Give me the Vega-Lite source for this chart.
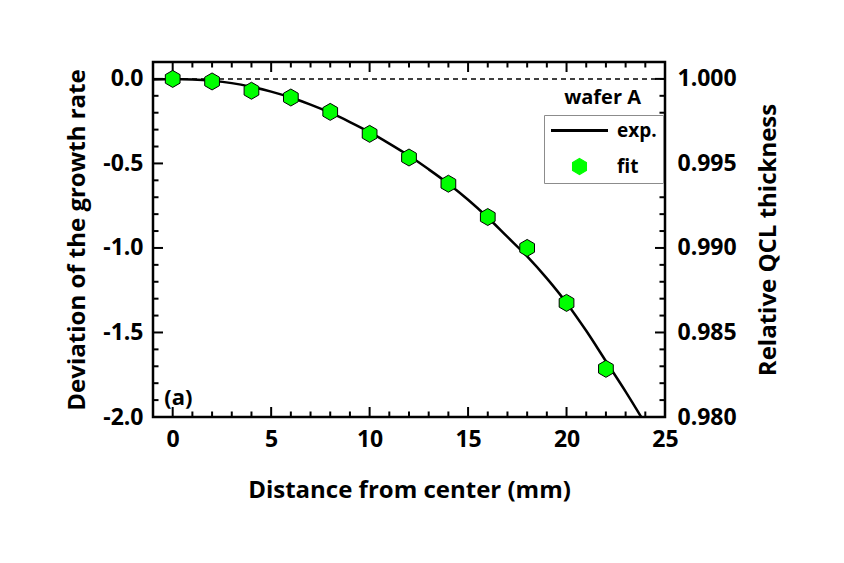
{
  "$schema": "https://vega.github.io/schema/vega-lite/v6.json",
  "description": "Deviation of the growth rate vs distance from wafer center, wafer A.",
  "width": 512,
  "height": 355,
  "autosize": {"type": "none"},
  "padding": {"left": 153, "top": 62, "right": 179, "bottom": 146},
  "background": "white",
  "config": {
    "view": {"stroke": "black", "strokeWidth": 2.5},
    "font": "Open Sans",
    "axis": {
      "grid": false,
      "domain": false,
      "ticks": false,
      "labelFont": "Open Sans",
      "labelFontWeight": "bold",
      "labelFontSize": 23,
      "labelColor": "black",
      "labelFlush": false,
      "labelOverlap": false,
      "titleFont": "Open Sans",
      "titleFontWeight": "bold",
      "titleFontSize": 24,
      "titleColor": "black"
    },
    "tick": {"color": "black", "opacity": 1, "thickness": 2}
  },
  "datasets": {
    "curve": [
      {"x": -1, "y": -0.003, "series": "exp."},
      {"x": 0, "y": 0, "series": "exp."},
      {"x": 1, "y": -0.003, "series": "exp."},
      {"x": 2, "y": -0.011, "series": "exp."},
      {"x": 3, "y": -0.025, "series": "exp."},
      {"x": 4, "y": -0.047, "series": "exp."},
      {"x": 5, "y": -0.075, "series": "exp."},
      {"x": 6, "y": -0.11, "series": "exp."},
      {"x": 7, "y": -0.152, "series": "exp."},
      {"x": 8, "y": -0.2, "series": "exp."},
      {"x": 9, "y": -0.255, "series": "exp."},
      {"x": 10, "y": -0.315, "series": "exp."},
      {"x": 11, "y": -0.383, "series": "exp."},
      {"x": 12, "y": -0.455, "series": "exp."},
      {"x": 13, "y": -0.535, "series": "exp."},
      {"x": 14, "y": -0.62, "series": "exp."},
      {"x": 15, "y": -0.715, "series": "exp."},
      {"x": 16, "y": -0.82, "series": "exp."},
      {"x": 17, "y": -0.935, "series": "exp."},
      {"x": 18, "y": -1.05, "series": "exp."},
      {"x": 19, "y": -1.18, "series": "exp."},
      {"x": 20, "y": -1.325, "series": "exp."},
      {"x": 21, "y": -1.49, "series": "exp."},
      {"x": 22, "y": -1.67, "series": "exp."},
      {"x": 23, "y": -1.85, "series": "exp."},
      {"x": 24, "y": -2.04, "series": "exp."}
    ],
    "fit": [
      {"x": 0, "y": 0, "rel": 1.0, "series": "fit"},
      {"x": 2, "y": -0.015, "rel": 0.99985, "series": "fit"},
      {"x": 4, "y": -0.07, "rel": 0.9993, "series": "fit"},
      {"x": 6, "y": -0.11, "rel": 0.9989, "series": "fit"},
      {"x": 8, "y": -0.195, "rel": 0.99805, "series": "fit"},
      {"x": 10, "y": -0.325, "rel": 0.99675, "series": "fit"},
      {"x": 12, "y": -0.465, "rel": 0.99535, "series": "fit"},
      {"x": 14, "y": -0.62, "rel": 0.9938, "series": "fit"},
      {"x": 16, "y": -0.817, "rel": 0.99183, "series": "fit"},
      {"x": 18, "y": -1.0, "rel": 0.99, "series": "fit"},
      {"x": 20, "y": -1.325, "rel": 0.98675, "series": "fit"},
      {"x": 22, "y": -1.715, "rel": 0.98285, "series": "fit"}
    ],
    "tb_major": [
      {"x": 0, "y": -1.9704}, {"x": 5, "y": -1.9704}, {"x": 10, "y": -1.9704}, {"x": 15, "y": -1.9704}, {"x": 20, "y": -1.9704},
      {"x": 0, "y": 0.0704}, {"x": 5, "y": 0.0704}, {"x": 10, "y": 0.0704}, {"x": 15, "y": 0.0704}, {"x": 20, "y": 0.0704}
    ],
    "tb_minor": [
      {"x": 1, "y": -1.9837}, {"x": 2, "y": -1.9837}, {"x": 3, "y": -1.9837}, {"x": 4, "y": -1.9837},
      {"x": 6, "y": -1.9837}, {"x": 7, "y": -1.9837}, {"x": 8, "y": -1.9837}, {"x": 9, "y": -1.9837},
      {"x": 11, "y": -1.9837}, {"x": 12, "y": -1.9837}, {"x": 13, "y": -1.9837}, {"x": 14, "y": -1.9837},
      {"x": 16, "y": -1.9837}, {"x": 17, "y": -1.9837}, {"x": 18, "y": -1.9837}, {"x": 19, "y": -1.9837},
      {"x": 21, "y": -1.9837}, {"x": 22, "y": -1.9837}, {"x": 23, "y": -1.9837}, {"x": 24, "y": -1.9837},
      {"x": 1, "y": 0.0837}, {"x": 2, "y": 0.0837}, {"x": 3, "y": 0.0837}, {"x": 4, "y": 0.0837},
      {"x": 6, "y": 0.0837}, {"x": 7, "y": 0.0837}, {"x": 8, "y": 0.0837}, {"x": 9, "y": 0.0837},
      {"x": 11, "y": 0.0837}, {"x": 12, "y": 0.0837}, {"x": 13, "y": 0.0837}, {"x": 14, "y": 0.0837},
      {"x": 16, "y": 0.0837}, {"x": 17, "y": 0.0837}, {"x": 18, "y": 0.0837}, {"x": 19, "y": 0.0837},
      {"x": 21, "y": 0.0837}, {"x": 22, "y": 0.0837}, {"x": 23, "y": 0.0837}, {"x": 24, "y": 0.0837}
    ],
    "lr_major": [
      {"x": -0.746, "y": -1.5}, {"x": -0.746, "y": -1.0}, {"x": -0.746, "y": -0.5}, {"x": -0.746, "y": 0.0},
      {"x": 24.746, "y": -1.5}, {"x": 24.746, "y": -1.0}, {"x": 24.746, "y": -0.5}, {"x": 24.746, "y": 0.0}
    ],
    "lr_minor": [
      {"x": -0.86, "y": -1.9}, {"x": -0.86, "y": -1.8}, {"x": -0.86, "y": -1.7}, {"x": -0.86, "y": -1.6},
      {"x": -0.86, "y": -1.4}, {"x": -0.86, "y": -1.3}, {"x": -0.86, "y": -1.2}, {"x": -0.86, "y": -1.1},
      {"x": -0.86, "y": -0.9}, {"x": -0.86, "y": -0.8}, {"x": -0.86, "y": -0.7}, {"x": -0.86, "y": -0.6},
      {"x": -0.86, "y": -0.4}, {"x": -0.86, "y": -0.3}, {"x": -0.86, "y": -0.2}, {"x": -0.86, "y": -0.1},
      {"x": 24.86, "y": -1.9}, {"x": 24.86, "y": -1.8}, {"x": 24.86, "y": -1.7}, {"x": 24.86, "y": -1.6},
      {"x": 24.86, "y": -1.4}, {"x": 24.86, "y": -1.3}, {"x": 24.86, "y": -1.2}, {"x": 24.86, "y": -1.1},
      {"x": 24.86, "y": -0.9}, {"x": 24.86, "y": -0.8}, {"x": 24.86, "y": -0.7}, {"x": 24.86, "y": -0.6},
      {"x": 24.86, "y": -0.4}, {"x": 24.86, "y": -0.3}, {"x": 24.86, "y": -0.2}, {"x": 24.86, "y": -0.1}
    ]
  },
  "layer": [
    {
      "data": {"values": [{"y": 0}]},
      "mark": {"type": "rule", "color": "black", "strokeDash": [5, 4], "strokeWidth": 1.5},
      "encoding": {
        "y": {"field": "y", "type": "quantitative", "scale": {"domain": [-2, 0.1]}, "axis": null}
      }
    },
    {
      "data": {"name": "tb_major"},
      "mark": {"type": "tick", "orient": "vertical", "size": 10},
      "encoding": {
        "x": {"field": "x", "type": "quantitative", "scale": {"domain": [-1, 25]}, "axis": null},
        "y": {"field": "y", "type": "quantitative", "scale": {"domain": [-2, 0.1]}, "axis": null}
      }
    },
    {
      "data": {"name": "tb_minor"},
      "mark": {"type": "tick", "orient": "vertical", "size": 5.5},
      "encoding": {
        "x": {"field": "x", "type": "quantitative", "scale": {"domain": [-1, 25]}, "axis": null},
        "y": {"field": "y", "type": "quantitative", "scale": {"domain": [-2, 0.1]}, "axis": null}
      }
    },
    {
      "data": {"name": "lr_major"},
      "mark": {"type": "tick", "orient": "horizontal", "size": 10},
      "encoding": {
        "x": {"field": "x", "type": "quantitative", "scale": {"domain": [-1, 25]}, "axis": null},
        "y": {"field": "y", "type": "quantitative", "scale": {"domain": [-2, 0.1]}, "axis": null}
      }
    },
    {
      "data": {"name": "lr_minor"},
      "mark": {"type": "tick", "orient": "horizontal", "size": 5.5},
      "encoding": {
        "x": {"field": "x", "type": "quantitative", "scale": {"domain": [-1, 25]}, "axis": null},
        "y": {"field": "y", "type": "quantitative", "scale": {"domain": [-2, 0.1]}, "axis": null}
      }
    },
    {
      "data": {"name": "curve"},
      "mark": {"type": "line", "strokeWidth": 2.5, "interpolate": "monotone", "clip": true},
      "encoding": {
        "x": {
          "field": "x", "type": "quantitative", "scale": {"domain": [-1, 25]},
          "axis": {"orient": "bottom", "values": [0, 5, 10, 15, 20, 25],
                   "labelPadding": 11, "title": "Distance from center (mm)", "titlePadding": 27}
        },
        "y": {
          "field": "y", "type": "quantitative", "scale": {"domain": [-2, 0.1]},
          "axis": {"orient": "left", "values": [-2, -1.5, -1, -0.5, 0],
                   "labelPadding": 10, "labelExpr": "replace(format(datum.value, '.1f'), '\u2212', '-')",
                   "title": "Deviation of the growth rate", "titlePadding": 13}
        },
        "color": {
          "field": "series", "type": "nominal",
          "scale": {"domain": ["exp.", "fit"], "range": ["black", "#00ff00"]},
          "legend": {
            "title": null,
            "orient": "none",
            "legendX": 391,
            "legendY": 53,
            "padding": 6,
            "strokeColor": "#8c8c8c",
            "fillColor": "white",
            "symbolOffset": 20,
            "labelOffset": 28,
            "rowPadding": 15,
            "labelFont": "Open Sans",
            "labelFontWeight": "bold",
            "labelFontSize": 19,
            "labelColor": "black",
            "encode": {
              "symbols": {
                "update": {
                  "shape": {"signal": "datum.value === 'exp.' ? 'stroke' : 'M0,-1L0.866,-0.5L0.866,0.5L0,1L-0.866,0.5L-0.866,-0.5Z'"},
                  "size": {"signal": "datum.value === 'exp.' ? 3249 : 256"},
                  "fill": {"signal": "datum.value === 'exp.' ? 'transparent' : '#00ff00'"},
                  "strokeWidth": {"signal": "datum.value === 'exp.' ? 3 : 1.2"},
                  "opacity": {"value": 1}
                }
              }
            }
          }
        }
      }
    },
    {
      "data": {"name": "fit"},
      "mark": {"type": "point", "filled": true, "opacity": 1, "size": 289, "stroke": "black", "strokeWidth": 1,
               "shape": "M0,-1L0.866,-0.5L0.866,0.5L0,1L-0.866,0.5L-0.866,-0.5Z"},
      "encoding": {
        "x": {"field": "x", "type": "quantitative", "scale": {"domain": [-1, 25]}, "axis": null},
        "y": {"field": "y", "type": "quantitative", "scale": {"domain": [-2, 0.1]}, "axis": null},
        "color": {
          "field": "series", "type": "nominal",
          "scale": {"domain": ["exp.", "fit"], "range": ["black", "#00ff00"]}
        }
      }
    },
    {
      "data": {"values": [{"label": "wafer A", "x": 21.83, "y": -0.112}]},
      "mark": {"type": "text", "font": "Open Sans", "fontWeight": "bold", "fontSize": 20, "color": "black"},
      "encoding": {
        "text": {"field": "label"},
        "x": {"field": "x", "type": "quantitative", "scale": {"domain": [-1, 25]}, "axis": null},
        "y": {"field": "y", "type": "quantitative", "scale": {"domain": [-2, 0.1]}, "axis": null}
      }
    },
    {
      "data": {"values": [{"label": "(a)", "x": 0.29, "y": -1.89}]},
      "mark": {"type": "text", "font": "Open Sans", "fontWeight": "bold", "fontSize": 22, "color": "black"},
      "encoding": {
        "text": {"field": "label"},
        "x": {"field": "x", "type": "quantitative", "scale": {"domain": [-1, 25]}, "axis": null},
        "y": {"field": "y", "type": "quantitative", "scale": {"domain": [-2, 0.1]}, "axis": null}
      }
    },
    {
      "data": {"name": "fit"},
      "mark": {"type": "point", "opacity": 0},
      "encoding": {
        "x": {"field": "x", "type": "quantitative", "scale": {"domain": [-1, 25]}, "axis": null},
        "y": {
          "field": "rel", "type": "quantitative", "scale": {"domain": [0.98, 1.001]},
          "axis": {"orient": "right", "values": [0.98, 0.985, 0.99, 0.995, 1.0],
                   "format": ".3f", "labelPadding": 12,
                   "title": "Relative QCL thickness", "titleAngle": 270, "titleBaseline": "top", "titlePadding": 20}
        }
      }
    }
  ],
  "resolve": {
    "scale": {"y": "independent"},
    "axis": {"x": "independent", "y": "independent"}
  }
}
